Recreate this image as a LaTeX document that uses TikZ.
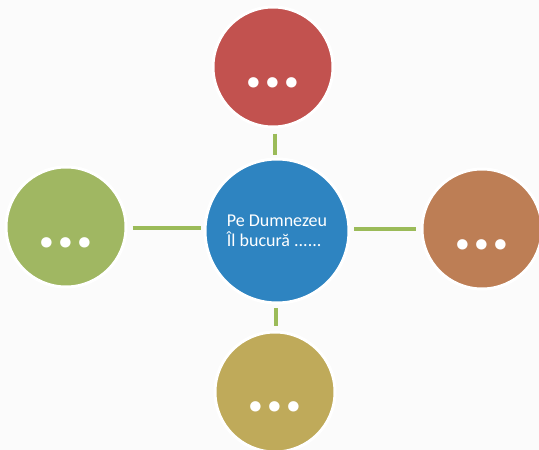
\documentclass[tikz,border=0pt]{standalone}
\usepackage{fontspec}
\setmainfont{Carlito}
\definecolor{bgc}{HTML}{FBFBFB}
\definecolor{cblue}{HTML}{2E84C1}
\definecolor{cred}{HTML}{C2524F}
\definecolor{cbrown}{HTML}{BD7E55}
\definecolor{cgold}{HTML}{BFAA5A}
\definecolor{cgreen}{HTML}{A0B762}
\definecolor{clink}{HTML}{9BBB59}
\tikzset{
  bubble/.style={circle, draw=white, line width=3pt, minimum size=120pt, inner sep=0pt, text=white},
  hub/.style={bubble, fill=cblue, minimum size=144pt, font=\fontsize{18}{20}\selectfont, align=left},
  dots/.style={font=\bfseries\fontsize{70}{70}\selectfont, text=white, inner sep=0pt},
  link/.style={draw=clink, line width=4.5pt}
}
\begin{document}
\begin{tikzpicture}[x=1pt,y=-1pt]
\fill[bgc] (0,0) rectangle (539,450);
\useasboundingbox (0,0) rectangle (539,450);
\node[hub] (c) at (277,231) {Pe Dumnezeu\\Îl bucură ......};
\node[bubble, fill=cred] (t) at (273,67) {};
\node[bubble, fill=cbrown] (r) at (482,229) {};
\node[bubble, fill=cgold] (b) at (275,392) {};
\node[bubble, fill=cgreen] (l) at (66,227) {};
\node[dots, anchor=base] (tt) at (273,87.5) {...};
\node[dots, anchor=base] (rt) at (482,249) {...};
\node[dots, anchor=base] (bt) at (275,411) {...};
\node[dots, anchor=base] (lt) at (66,247.5) {...};
\coordinate (tc) at (275,0);
\coordinate (bc) at (276,0);
\coordinate (rc) at (0,229);
\coordinate (lc) at (0,228);
\draw[link] ([yshift=-5pt]t.south -| tc) -- ([yshift=3pt]c.north -| tc);
\draw[link] ([yshift=5pt]b.north -| bc) -- ([yshift=-3pt]c.south -| bc);
\draw[link] ([xshift=-5pt]r.west |- rc) -- ([xshift=3pt]c.east |- rc);
\draw[link] ([xshift=5pt]l.east |- lc) -- ([xshift=-3pt]c.west |- lc);
\end{tikzpicture}
\end{document}
